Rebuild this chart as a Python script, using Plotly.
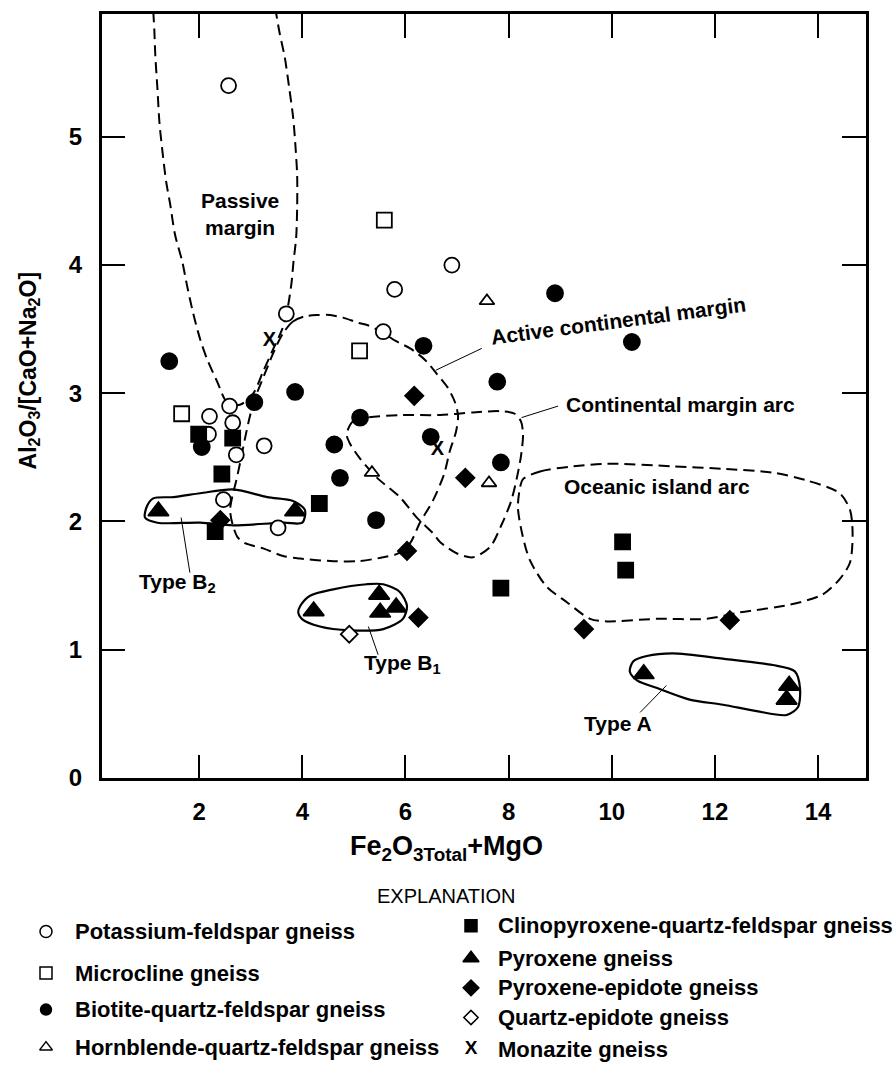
import plotly.graph_objects as go

FONT = "Liberation Sans, Arial, Helvetica, sans-serif"
W, H = 893, 1071

# ---- sample data: Fe2O3(total)+MgO vs Al2O3/(CaO+Na2O) ----
kfs_x = [2.57, 5.79, 6.90, 3.69, 5.57, 2.20, 2.59, 2.65, 2.18, 2.72, 3.26, 2.47, 3.53]
kfs_y = [5.40, 3.81, 4.00, 3.62, 3.48, 2.82, 2.90, 2.77, 2.68, 2.52, 2.59, 2.17, 1.95]

micro_x = [5.59, 5.11, 1.66]
micro_y = [4.35, 3.33, 2.84]

biot_x = [1.42, 3.07, 3.86, 6.35, 8.90, 10.39, 7.78, 5.12, 4.62, 6.49, 4.73, 5.43, 2.05, 7.85]
biot_y = [3.25, 2.93, 3.01, 3.37, 3.78, 3.40, 3.09, 2.81, 2.60, 2.66, 2.34, 2.01, 2.58, 2.46]

hbl_x = [7.58, 5.35, 7.62]
hbl_y = [3.72, 2.38, 2.30]

cpx_x = [1.99, 2.65, 2.44, 4.33, 2.31, 7.85, 10.21, 10.27]
cpx_y = [2.68, 2.65, 2.37, 2.14, 1.92, 1.48, 1.84, 1.62]

pyx_x = [1.21, 3.86, 5.49, 5.82, 5.51, 4.22, 10.62, 13.44, 13.39]
pyx_y = [2.08, 2.08, 1.43, 1.33, 1.29, 1.30, 0.81, 0.72, 0.61]

pxep_x = [6.17, 2.41, 6.03, 6.25, 7.16, 9.46, 12.29]
pxep_y = [2.98, 2.01, 1.77, 1.25, 2.34, 1.16, 1.23]

qep_x = [4.91]
qep_y = [1.12]

mnz_x = [3.36, 6.62]
mnz_y = [3.41, 2.56]

# ---- tectonic-setting fields (dashed) and type fields (solid) ----
passive_x = [1.11, 1.13, 1.15, 1.19, 1.23, 1.29, 1.36, 1.44, 1.53, 1.67, 1.77, 1.88, 2.02,
             2.15, 2.35, 2.54, 2.79, 3.05, 3.24, 3.43, 3.61, 3.70, 3.79, 3.83, 3.88, 3.90,
             3.90, 3.87, 3.82, 3.75, 3.66, 3.56, 3.49]
passive_y = [5.98, 5.84, 5.63, 5.38, 5.11, 4.88, 4.65, 4.47, 4.24, 4.03, 3.83, 3.63, 3.42,
             3.27, 3.09, 2.93, 2.91, 3.00, 3.17, 3.34, 3.50, 3.63, 3.86, 4.03, 4.21, 4.45,
             4.70, 4.91, 5.16, 5.37, 5.62, 5.81, 5.97]

active_x = [3.63, 3.82, 4.05, 4.29, 4.54, 4.79, 5.08, 5.27, 5.57, 5.80, 6.09, 6.38, 6.61,
            6.81, 6.96, 7.02, 6.98, 6.86, 6.75, 6.53, 6.28, 6.09, 5.86, 5.57, 5.08, 4.60,
            3.96, 3.63, 3.24, 2.89, 2.74, 2.64, 2.60, 2.64, 2.72, 2.80, 2.89, 2.99, 3.12,
            3.25, 3.38, 3.51, 3.63]
active_y = [3.47, 3.56, 3.60, 3.61, 3.61, 3.59, 3.55, 3.53, 3.47, 3.41, 3.35, 3.26, 3.15,
            3.05, 2.93, 2.82, 2.70, 2.55, 2.37, 2.16, 1.99, 1.83, 1.75, 1.72, 1.69, 1.69,
            1.71, 1.73, 1.79, 1.83, 1.88, 1.99, 2.09, 2.19, 2.32, 2.47, 2.65, 2.83, 3.00,
            3.13, 3.26, 3.38, 3.47]

cmarc_x = [4.86, 4.98, 5.26, 5.89, 6.67, 7.31, 7.83, 8.12, 8.24, 8.28, 8.24, 8.16, 8.05,
           7.87, 7.64, 7.31, 7.00, 6.67, 6.53, 6.22, 5.89, 5.45, 5.12, 4.92, 4.86]
cmarc_y = [2.68, 2.78, 2.81, 2.83, 2.83, 2.85, 2.86, 2.84, 2.78, 2.68, 2.51, 2.34, 2.16,
           1.98, 1.80, 1.72, 1.75, 1.84, 1.91, 2.03, 2.19, 2.34, 2.49, 2.61, 2.68]

ocean_x = [8.28, 8.61, 9.25, 9.91, 11.19, 12.15, 13.13, 13.78, 14.42, 14.62, 14.67, 14.62,
           14.42, 14.09, 13.45, 12.48, 11.84, 10.87, 9.91, 9.58, 9.13, 8.74, 8.41, 8.26,
           8.18, 8.22, 8.28]
ocean_y = [2.33, 2.39, 2.43, 2.45, 2.43, 2.41, 2.38, 2.32, 2.22, 2.09, 1.91, 1.68,
           1.55, 1.43, 1.35, 1.29, 1.24, 1.24, 1.22, 1.24, 1.37, 1.49, 1.70, 1.91,
           2.11, 2.26, 2.33]

typea_x = [10.42, 10.68, 11.18, 12.15, 13.12, 13.55, 13.65, 13.61, 13.39, 12.81, 12.16,
           11.51, 10.88, 10.49, 10.35, 10.42]
typea_y = [0.91, 0.95, 0.97, 0.93, 0.88, 0.83, 0.70, 0.55, 0.49, 0.52, 0.57,
           0.61, 0.70, 0.76, 0.83, 0.91]

typeb1_x = [3.92, 3.96, 4.15, 4.60, 5.25, 5.57, 5.89, 6.03, 5.95, 5.57, 4.93, 4.34, 3.99, 3.92]
typeb1_y = [1.29, 1.34, 1.42, 1.47, 1.51, 1.51, 1.45, 1.34, 1.24, 1.16, 1.15, 1.18, 1.24, 1.29]

typeb2_x = [0.99, 1.11, 1.50, 2.02, 2.66, 3.32, 3.82, 4.05, 4.00, 3.63, 2.66, 2.02, 1.19, 0.95, 0.99]
typeb2_y = [2.12, 2.18, 2.19, 2.22, 2.25, 2.19, 2.16, 2.09, 1.99, 1.99, 1.97, 1.99, 1.99, 2.03, 2.12]

# field labels: text, x, y, angle
field_labels = [
    ("Passive<br>margin", 2.79, 4.40, 0),
    ("Active continental margin", 10.14, 3.57, -7.5),
    ("Continental margin arc", 11.34, 2.91, 0),
    ("Oceanic island arc", 10.87, 2.27, 0),
    ("Type B<sub>2</sub>", 1.57, 1.52, 0),
    ("Type B<sub>1</sub>", 5.95, 0.89, 0),
    ("Type A", 10.12, 0.42, 0),
]
# leader lines from label to field: x0, y0, x1, y1
leaders = [
    (6.59, 3.18, 7.48, 3.35),
    (8.25, 2.81, 8.96, 2.90),
    (1.82, 1.60, 1.65, 2.03),
    (5.47, 0.96, 5.28, 1.18),
    (10.55, 0.51, 11.06, 0.72),
]

x_ticks = [2, 4, 6, 8, 10, 12, 14]
y_ticks = [0, 1, 2, 3, 4, 5]

fig = go.Figure()

dash = "11px,6px"
for fx, fy in [(passive_x, passive_y), (active_x, active_y), (cmarc_x, cmarc_y), (ocean_x, ocean_y)]:
    fig.add_trace(go.Scatter(x=fx, y=fy, mode="lines",
                             line=dict(color="black", width=2, dash=dash, shape="spline", smoothing=0.8),
                             hoverinfo="skip"))
for fx, fy in [(typea_x, typea_y), (typeb1_x, typeb1_y), (typeb2_x, typeb2_y)]:
    fig.add_trace(go.Scatter(x=fx, y=fy, mode="lines",
                             line=dict(color="black", width=2.2, shape="spline", smoothing=0.8),
                             hoverinfo="skip"))

series = [
    ("Potassium-feldspar gneiss", kfs_x, kfs_y, "circle", "white", 15),
    ("Microcline gneiss", micro_x, micro_y, "square", "white", 15),
    ("Biotite-quartz-feldspar gneiss", biot_x, biot_y, "circle", "black", 16),
    ("Hornblende-quartz-feldspar gneiss", hbl_x, hbl_y, "triangle-up", "white", 13),
    ("Clinopyroxene-quartz-feldspar gneiss", cpx_x, cpx_y, "square", "black", 15),
    ("Pyroxene gneiss", pyx_x, pyx_y, "triangle-up", "black", 18),
    ("Pyroxene-epidote gneiss", pxep_x, pxep_y, "diamond", "black", 14),
    ("Quartz-epidote gneiss", qep_x, qep_y, "diamond", "white", 13),
]
for name, sx, sy, sym, fill, size in series:
    fig.add_trace(go.Scatter(x=sx, y=sy, mode="markers", name=name,
                             marker=dict(symbol=sym, size=size, color=fill,
                                         line=dict(color="black", width=1.8))))
fig.add_trace(go.Scatter(x=mnz_x, y=mnz_y, mode="text", text=["X"] * len(mnz_x),
                         name="Monazite gneiss",
                         textfont=dict(family=FONT, size=20, color="black", weight="bold")))

# leader lines
for x0, y0, x1, y1 in leaders:
    fig.add_shape(type="line", xref="x", yref="y", x0=x0, y0=y0, x1=x1, y1=y1,
                  line=dict(color="black", width=1))

# field labels
for txt, lx, ly, ang in field_labels:
    fig.add_annotation(x=lx, y=ly, xref="x", yref="y", text=txt, showarrow=False,
                       textangle=ang, xanchor="center", yanchor="middle",
                       font=dict(family=FONT, size=21, color="black", weight="bold"))

# ---- explanation (legend) drawn on a hidden pixel-scaled axis ----
legend_left = [
    ("Potassium-feldspar gneiss", "circle", "white", 12, 943),
    ("Microcline gneiss", "square", "white", 12, 985),
    ("Biotite-quartz-feldspar gneiss", "circle", "black", 11, 1022),
    ("Hornblende-quartz-feldspar gneiss", "triangle-up", "white", 11, 1060),
]
legend_right = [
    ("Clinopyroxene-quartz-feldspar gneiss", "square", "black", 12, 937),
    ("Pyroxene gneiss", "triangle-up", "black", 14, 970),
    ("Pyroxene-epidote gneiss", "diamond", "black", 12, 1000),
    ("Quartz-epidote gneiss", "diamond", "white", 11, 1030),
    ("Monazite gneiss", None, None, None, 1062),
]
for col, sx, tx in [(legend_left, 46, 73), (legend_right, 471, 496)]:
    for label, sym, fill, size, py in col:
        if sym is None:
            fig.add_trace(go.Scatter(x=[sx], y=[py], mode="text", text=["X"], xaxis="x2", yaxis="y2",
                                     textfont=dict(family=FONT, size=19, color="black", weight="bold")))
        else:
            fig.add_trace(go.Scatter(x=[sx], y=[py], mode="markers", xaxis="x2", yaxis="y2",
                                     marker=dict(symbol=sym, size=size, color=fill,
                                                 line=dict(color="black", width=1.5))))
        fig.add_annotation(x=tx / W, y=1 - py / H, xref="paper", yref="paper", text=label,
                           showarrow=False, xanchor="left", yanchor="middle",
                           font=dict(family=FONT, size=22, color="black", weight="bold"))

fig.add_annotation(x=446 / W, y=1 - 907 / H, xref="paper", yref="paper", text="EXPLANATION",
                   showarrow=False, xanchor="center", yanchor="middle",
                   font=dict(family=FONT, size=20, color="black"))

# axis titles
fig.add_annotation(x=446 / W, y=1 - 858 / H, xref="paper", yref="paper",
                   text="Fe<sub>2</sub>O<sub>3Total</sub>+MgO", showarrow=False,
                   xanchor="center", yanchor="middle",
                   font=dict(family=FONT, size=27, color="black", weight="bold"))
fig.add_annotation(x=29 / W, y=1 - 375 / H, xref="paper", yref="paper",
                   text="Al<sub>2</sub>O<sub>3</sub>/[CaO+Na<sub>2</sub>O]", showarrow=False,
                   textangle=-90, xanchor="center", yanchor="middle",
                   font=dict(family=FONT, size=23, color="black", weight="bold"))

axis_common = dict(ticks="inside", tickcolor="black", tickwidth=2, ticklen=24,
                   showline=True, linecolor="black", linewidth=2.5, mirror="allticks",
                   showgrid=False, zeroline=False,
                   tickfont=dict(family=FONT, size=24, color="black", weight="bold"))

fig.update_layout(
    width=W, height=H,
    margin=dict(l=0, r=0, t=0, b=0),
    paper_bgcolor="white", plot_bgcolor="white",
    showlegend=False,
    xaxis=dict(domain=[101.7 / W, 866 / W], range=[0.11, 14.93], tickvals=x_ticks,
               ticklabelstandoff=10, anchor="y", **axis_common),
    yaxis=dict(domain=[1 - 788 / H, 1 - 14 / H], range=[-0.005, 5.96], tickvals=y_ticks,
               ticklabelstandoff=12, anchor="x", **axis_common),
    xaxis2=dict(domain=[0, 1], range=[0, W], visible=False, anchor="y2"),
    yaxis2=dict(domain=[0, 200 / H], range=[H, H - 200], visible=False, anchor="x2"),
)

fig.write_html("out.html")
